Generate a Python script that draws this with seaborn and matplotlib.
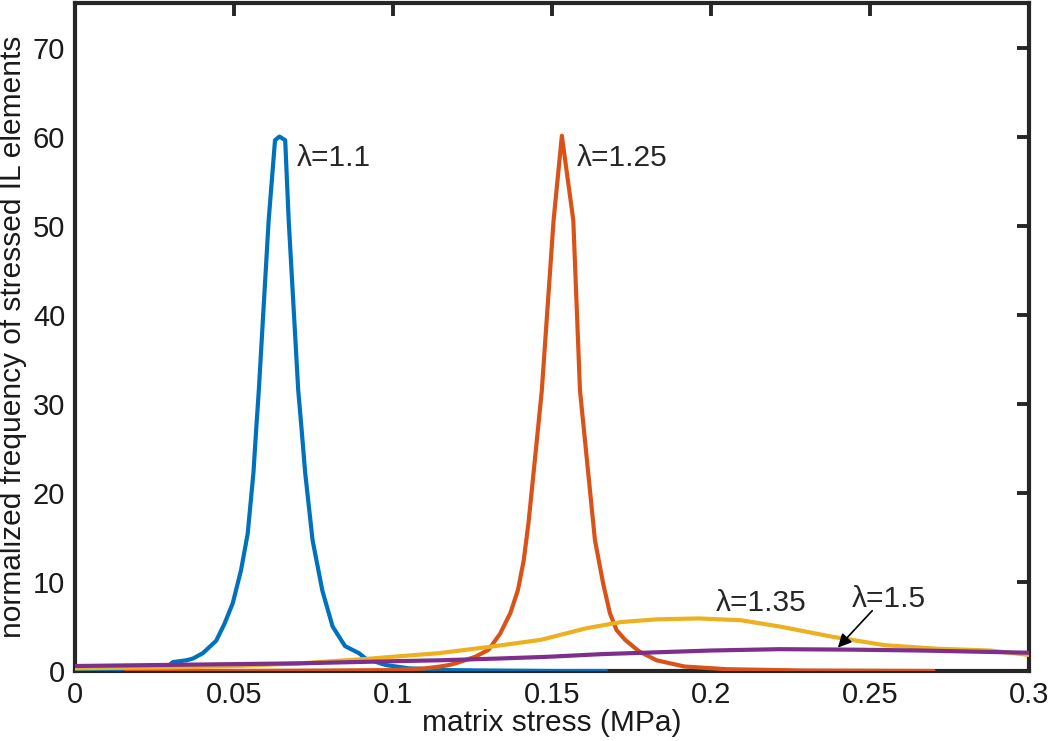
import numpy as np
import pandas as pd
import matplotlib
matplotlib.use("Agg")
import matplotlib.pyplot as plt
import seaborn as sns

# values
blue_x = [0, 0.01, 0.02, 0.0277, 0.0308, 0.035, 0.0371, 0.0402, 0.0444, 0.047, 0.0496,
          0.0522, 0.0543, 0.0561, 0.0571, 0.0578, 0.0609, 0.0629, 0.0643, 0.0661, 0.0672,
          0.0702, 0.0711, 0.0724, 0.0747, 0.0778, 0.081, 0.0849, 0.0893, 0.0914, 0.0977,
          0.105, 0.1176, 0.13, 0.15, 0.167]
blue_y = [0, 0, 0, 0.1, 1.0, 1.2, 1.4, 2.0, 3.4, 5.3, 7.6,
          11.3, 15.4, 22.2, 27.8, 31.5, 50.6, 59.6, 60.0, 59.6, 50.6,
          31.5, 27.8, 22.2, 14.7, 9.0, 5.0, 2.8, 2.0, 1.4, 0.67,
          0.3, 0.1, 0.05, 0.0, 0.0]

orange_x = [0.016, 0.05, 0.08, 0.0998, 0.1102, 0.1144, 0.1176, 0.1197, 0.1259, 0.1301,
            0.1337, 0.1369, 0.1393, 0.1411, 0.1426, 0.1447, 0.1468, 0.1505, 0.1531, 0.1567,
            0.1588, 0.1609, 0.1635, 0.1661, 0.1682, 0.1703, 0.173, 0.1774, 0.1829, 0.1917,
            0.205, 0.23, 0.27]
orange_y = [0, 0, 0.05, 0.1, 0.3, 0.48, 0.67, 0.86, 1.6, 2.4,
            4.2, 6.5, 9.1, 12.4, 16.6, 24.0, 31.5, 50.6, 60.1, 50.6,
            31.5, 24.0, 14.7, 9.8, 6.5, 4.6, 3.5, 2.2, 1.2, 0.5,
            0.2, 0.05, 0.0]

yellow_x = [0, 0.03, 0.05, 0.0705, 0.0914, 0.1, 0.1144, 0.1301, 0.1465, 0.1608, 0.1719,
            0.1829, 0.1961, 0.2094, 0.2215, 0.2381, 0.2546, 0.2712, 0.2878, 0.3]
yellow_y = [0.3, 0.4, 0.55, 0.85, 1.35, 1.6, 2.0, 2.7, 3.5, 4.8, 5.5,
            5.8, 5.9, 5.7, 5.0, 3.85, 2.9, 2.5, 2.3, 1.8]

purple_x = [0, 0.0705, 0.1, 0.1144, 0.1332, 0.149, 0.166, 0.2, 0.2215, 0.2436, 0.2657, 0.3]
purple_y = [0.56, 0.86, 1.1, 1.2, 1.4, 1.6, 1.9, 2.3, 2.45, 2.4, 2.3, 2.05]

labels = ["λ=1.1", "λ=1.25", "λ=1.35", "λ=1.5"]
colors = ["#0072BD", "#D95319", "#EDB120", "#7E2F8E"]

xticks = [0, 0.05, 0.1, 0.15, 0.2, 0.25, 0.3]
xticklabels = ["0", "0.05", "0.1", "0.15", "0.2", "0.25", "0.3"]
yticks = [0, 10, 20, 30, 40, 50, 60, 70]

frames = []
for lab, xs, ys in zip(labels, [blue_x, orange_x, yellow_x, purple_x],
                       [blue_y, orange_y, yellow_y, purple_y]):
    frames.append(pd.DataFrame({"stress": xs, "freq": ys, "lam": lab}))
dat = pd.concat(frames, ignore_index=True)

sns.set_style("white")
plt.rcParams['font.family'] = ['Liberation Sans', 'DejaVu Sans']

fs = 21

fig = plt.figure(figsize=(10.5, 7.41), dpi=100)
ax = fig.add_axes([75/1050, 70/741, (1029-75)/1050, (671-3)/741])

sns.lineplot(data=dat, x="stress", y="freq", hue="lam", palette=colors,
             estimator=None, sort=False, linewidth=3.0, legend=False, ax=ax, zorder=3)

ax.set_xlim(0, 0.3)
ax.set_ylim(0, 75)
ax.set_xticks(xticks)
ax.set_xticklabels(xticklabels)
ax.set_yticks(yticks)
ax.tick_params(axis="both", direction="in", length=9, width=2.8, labelsize=fs,
               top=True, right=True, pad=7, colors="#262626")
ax.tick_params(axis="both", labelcolor="#1a1a1a")
for s in ax.spines.values():
    s.set_linewidth(3.0)
    s.set_color("#262626")
    s.set_visible(True)

ax.set_xlabel("matrix stress (MPa)", fontsize=fs + 0.5, labelpad=0, color="#1a1a1a")
ax.set_ylabel("normalized frequency of stressed IL elements", fontsize=fs + 0.5,
              labelpad=4, color="#1a1a1a")

# curve labels
ax.text(0.0699, 57.6, labels[0], fontsize=fs + 0.5, va="center", ha="left")
ax.text(0.1577, 57.6, labels[1], fontsize=fs + 0.5, va="center", ha="left")
ax.text(0.2015, 7.6, labels[2], fontsize=fs + 0.5, va="center", ha="left")
ax.text(0.2444, 8.1, labels[3], fontsize=fs + 0.5, va="center", ha="left")
ax.annotate("", xy=(0.2393, 2.4), xytext=(0.2513, 7.0),
            arrowprops=dict(arrowstyle="-|>", color="black", lw=1.2,
                            mutation_scale=20))

fig.savefig("out.png", dpi=100)
